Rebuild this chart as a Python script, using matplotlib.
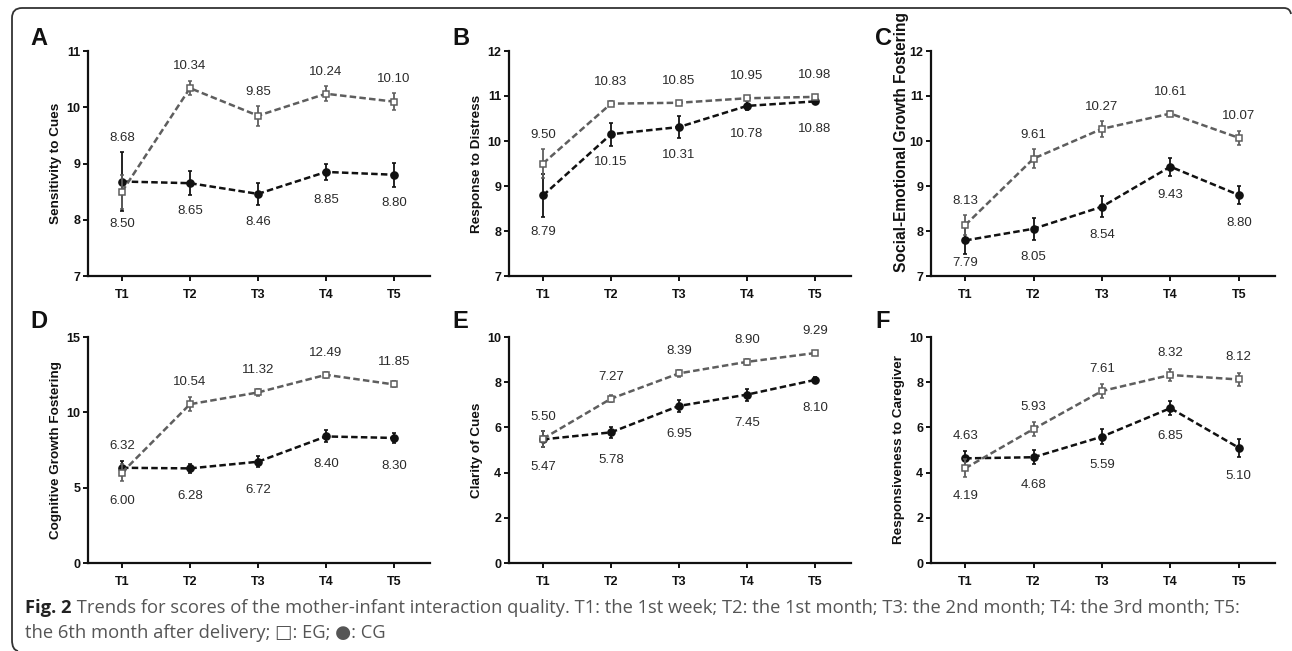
import matplotlib
matplotlib.use('Agg')
import matplotlib.pyplot as plt
from matplotlib.path import Path
from matplotlib.patches import PathPatch

# ---------------- data ----------------
timepoints = ['T1', 'T2', 'T3', 'T4', 'T5']
panel_letters = ['A', 'B', 'C', 'D', 'E', 'F']
ylabels = ['Sensitivity to Cues', 'Response to Distress', 'Social-Emotional Growth Fostering',
           'Cognitive Growth Fostering', 'Clarity of Cues', 'Responsiveness to Caregiver']

eg_sensitivity = [8.50, 10.34, 9.85, 10.24, 10.10]
cg_sensitivity = [8.68, 8.65, 8.46, 8.85, 8.80]
eg_sensitivity_se = [0.30, 0.13, 0.18, 0.13, 0.15]
cg_sensitivity_se = [0.52, 0.21, 0.19, 0.15, 0.21]

eg_distress = [9.50, 10.83, 10.85, 10.95, 10.98]
cg_distress = [8.79, 10.15, 10.31, 10.78, 10.88]
eg_distress_se = [0.32, 0.05, 0.05, 0.05, 0.05]
cg_distress_se = [0.48, 0.25, 0.24, 0.10, 0.05]

eg_social = [8.13, 9.61, 10.27, 10.61, 10.07]
cg_social = [7.79, 8.05, 8.54, 9.43, 8.80]
eg_social_se = [0.22, 0.21, 0.17, 0.05, 0.16]
cg_social_se = [0.30, 0.24, 0.23, 0.20, 0.20]

eg_cognitive = [6.00, 10.54, 11.32, 12.49, 11.85]
cg_cognitive = [6.32, 6.28, 6.72, 8.40, 8.30]
eg_cognitive_se = [0.55, 0.45, 0.25, 0.20, 0.20]
cg_cognitive_se = [0.47, 0.30, 0.35, 0.40, 0.35]

eg_clarity = [5.50, 7.27, 8.39, 8.90, 9.29]
cg_clarity = [5.47, 5.78, 6.95, 7.45, 8.10]
eg_clarity_se = [0.36, 0.15, 0.15, 0.12, 0.10]
cg_clarity_se = [0.35, 0.25, 0.25, 0.27, 0.12]

eg_caregiver = [4.19, 5.93, 7.61, 8.32, 8.12]
cg_caregiver = [4.63, 4.68, 5.59, 6.85, 5.10]
eg_caregiver_se = [0.40, 0.30, 0.30, 0.28, 0.30]
cg_caregiver_se = [0.33, 0.30, 0.34, 0.32, 0.39]

y_limits = [(7, 11), (7, 12), (7, 12), (0, 15), (0, 10), (0, 10)]
y_ticks = [[7, 8, 9, 10, 11], [7, 8, 9, 10, 11, 12], [7, 8, 9, 10, 11, 12],
           [0, 5, 10, 15], [0, 2, 4, 6, 8, 10], [0, 2, 4, 6, 8, 10]]

eg_all = [eg_sensitivity, eg_distress, eg_social, eg_cognitive, eg_clarity, eg_caregiver]
cg_all = [cg_sensitivity, cg_distress, cg_social, cg_cognitive, cg_clarity, cg_caregiver]
eg_se_all = [eg_sensitivity_se, eg_distress_se, eg_social_se, eg_cognitive_se, eg_clarity_se, eg_caregiver_se]
cg_se_all = [cg_sensitivity_se, cg_distress_se, cg_social_se, cg_cognitive_se, cg_clarity_se, cg_caregiver_se]

caption_bold = 'Fig. 2'
caption_line1 = (' Trends for scores of the mother-infant interaction quality. T1: the 1st week; '
                 'T2: the 1st month; T3: the 2nd month; T4: the 3rd month; T5:')
caption_line2 = 'the 6th month after delivery; \u25a1: EG; \u25cf: CG'

# ---------------- layout / style ----------------
W, H = 1292, 651
fig = plt.figure(figsize=(W / 100, H / 100), dpi=100)
plt.rcParams['font.family'] = ['Liberation Sans', 'DejaVu Sans']

col_lr = [(88, 430), (509, 851), (931, 1275)]
row_tb = [(51, 276), (337, 563)]
letter_xy = [(30, 45), (452, 45), (875, 45), (30, 328), (452, 328), (875, 328)]
ylabel_size = [9.7, 9.7, 11.2, 9.7, 9.7, 9.7]
ylabel_ycenter = [0.5, 0.5, 0.596, 0.5, 0.5, 0.5]
ylabel_right_px = [26, 26, 22, 26, 26, 26]

EG_COL = '#5e5e5e'
CG_COL = '#111111'
LBL_COL = '#2a2a2a'
x = list(range(1, 6))

for k in range(6):
    r, c = divmod(k, 3)
    l, rr = col_lr[c]
    t, b = row_tb[r]
    ax = fig.add_axes([l / W, (H - b) / H, (rr - l) / W, (b - t) / H])
    eg, cg = eg_all[k], cg_all[k]
    eg_se, cg_se = eg_se_all[k], cg_se_all[k]

    ax.errorbar(x, cg, yerr=cg_se, color=CG_COL, lw=1.8, dashes=(2.6, 1.3),
                marker='o', ms=5.2, mfc=CG_COL, mec=CG_COL, ecolor=CG_COL,
                elinewidth=1.3, capsize=1.5, capthick=1.2, zorder=3)
    ax.errorbar(x, eg, yerr=eg_se, color=EG_COL, lw=1.8, dashes=(2.6, 1.3),
                marker='s', ms=4.7, mfc='white', mec=EG_COL, mew=1.1, ecolor=EG_COL,
                elinewidth=1.3, capsize=1.5, capthick=1.2, zorder=4)

    ax.set_xlim(0.5, 5.53)
    ax.set_ylim(*y_limits[k])
    ax.set_yticks(y_ticks[k])
    ax.set_xticks(x)
    ax.set_xticklabels(timepoints)
    for s in ['top', 'right']:
        ax.spines[s].set_visible(False)
    for s in ['left', 'bottom']:
        ax.spines[s].set_linewidth(1.6)
        ax.spines[s].set_color('#111111')
    ax.tick_params(axis='both', width=1.4, length=3.5, labelsize=9, pad=2, colors='#111111')
    ax.tick_params(axis='x', pad=6)
    for lab in ax.get_xticklabels() + ax.get_yticklabels():
        lab.set_fontweight('bold')
    ax.set_ylabel(ylabels[k], fontsize=ylabel_size[k], fontweight='bold', color='#111111')
    ax.yaxis.set_label_coords(-ylabel_right_px[k] / (rr - l), ylabel_ycenter[k])

    # value labels
    ymin = y_limits[k][0]
    px_per_unit = (b - t) / (y_limits[k][1] - ymin)
    for i in range(5):
        if eg[i] >= cg[i]:
            up = (eg[i], eg_se[i]); dn = (cg[i], cg_se[i])
        else:
            up = (cg[i], cg_se[i]); dn = (eg[i], eg_se[i])
        up_off = max(22, up[1] * px_per_unit + 14)
        dn_off = max(28, dn[1] * px_per_unit + 15)
        dn_off = min(dn_off, (dn[0] - ymin) * px_per_unit - 13)
        ax.annotate(f'{up[0]:.2f}', (x[i], up[0]), xytext=(0, up_off),
                    textcoords='offset pixels', ha='center', va='center',
                    fontsize=9.5, color=LBL_COL)
        ax.annotate(f'{dn[0]:.2f}', (x[i], dn[0]), xytext=(0, -dn_off),
                    textcoords='offset pixels', ha='center', va='center',
                    fontsize=9.5, color=LBL_COL)

    lx, ly = letter_xy[k]
    fig.text(lx / W, 1 - ly / H, panel_letters[k], fontsize=17, fontweight='bold',
             ha='left', va='baseline', color='#111111')

# ---------------- frame ----------------
def fx(px):
    return px / W

def fy(py):
    return 1 - py / H

rad = 10
verts = [
    (fx(12), fy(640)),
    (fx(12), fy(8 + rad)),
    (fx(12), fy(8)), (fx(12 + rad), fy(8)),
    (fx(1284), fy(8)),
    (fx(1290), fy(8)), (fx(1291), fy(14)),
]
codes = [Path.MOVETO, Path.LINETO, Path.CURVE3, Path.CURVE3, Path.LINETO, Path.CURVE3, Path.CURVE3]
fig.patches.append(PathPatch(Path(verts, codes), transform=fig.transFigure, fill=False,
                             lw=1.3, edgecolor='#333333'))
verts2 = [(fx(12), fy(640)), (fx(12), fy(650)), (fx(18), fy(651))]
codes2 = [Path.MOVETO, Path.CURVE3, Path.CURVE3]
fig.patches.append(PathPatch(Path(verts2, codes2), transform=fig.transFigure, fill=False,
                             lw=1.3, edgecolor='#333333'))

# ---------------- caption ----------------
cap_font = ['Open Sans', 'DejaVu Sans']
cap_size = 13.2
t1 = fig.text(25 / W, fy(613), caption_bold, fontsize=cap_size, fontweight='bold',
              family=cap_font, color='#222222', va='baseline')
fig.canvas.draw()
bb = t1.get_window_extent(fig.canvas.get_renderer())
fig.text(bb.x1 / W, fy(613), caption_line1, fontsize=cap_size, family=cap_font,
         color='#555555', va='baseline')
fig.text(25 / W, fy(638), caption_line2, fontsize=cap_size, family=cap_font,
         color='#555555', va='baseline')

fig.savefig('out.png', dpi=100)
